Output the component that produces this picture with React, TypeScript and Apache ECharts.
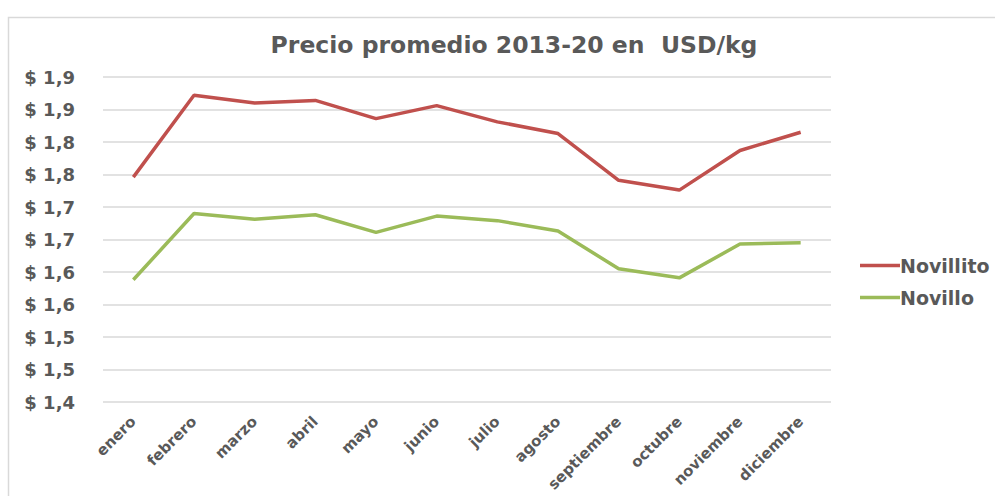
import React, { useEffect, useRef } from "react";
import * as echarts from "echarts";

const categories = ["enero", "febrero", "marzo", "abril", "mayo", "junio", "julio", "agosto", "septiembre", "octubre", "noviembre", "diciembre"];
const novillito = [1.746, 1.872, 1.86, 1.864, 1.836, 1.856, 1.831, 1.813, 1.741, 1.726, 1.787, 1.815];
const novillo = [1.588, 1.69, 1.681, 1.688, 1.661, 1.686, 1.679, 1.663, 1.605, 1.591, 1.643, 1.645];
const yMin = 1.4;
const yMax = 1.9;
const yStep = 0.05;

const FONT = "DejaVu Sans";
const GRAY = "#595959";

export default function App() {
  const ref = useRef<HTMLDivElement>(null);
  useEffect(() => {
    if (!ref.current) return;
    const chart = echarts.init(ref.current, null, { renderer: "svg" });
    chart.setOption({
      animation: false,
      backgroundColor: "#ffffff",
      title: {
        text: "Precio promedio 2013-20 en  USD/kg",
        left: 509,
        textAlign: "center",
        top: 28,
        textStyle: { fontFamily: FONT, fontWeight: "bold", fontSize: 23.5, color: GRAY },
      },
      graphic: [
        {
          type: "rect",
          shape: { x: 8.5, y: 17.5, width: 1100, height: 600 },
          style: { fill: "none", stroke: "#d9d9d9", lineWidth: 1.5 },
          silent: true,
          z: -10,
        },
      ],
      legend: {
        orient: "vertical",
        left: 855,
        top: 251,
        itemWidth: 40,
        itemHeight: 14,
        itemGap: 13,
        data: [
          { name: "Novillito", icon: "path://M0,0 L40,0 L40,3.5 L0,3.5 Z" },
          { name: "Novillo", icon: "path://M0,0 L40,0 L40,3.5 L0,3.5 Z" },
        ],
        textStyle: { fontFamily: FONT, fontWeight: "bold", fontSize: 19, color: GRAY, padding: [0, 0, 0, -5] },
      },
      grid: { left: 103, top: 77, width: 728, height: 325, outerBoundsMode: "none", containLabel: false },
      xAxis: {
        type: "category",
        data: categories,
        boundaryGap: true,
        axisLine: { show: false },
        axisTick: { show: false },
        axisLabel: {
          rotate: 45,
          interval: 0,
          margin: 17,
          fontFamily: FONT,
          fontWeight: "bold",
          fontSize: 15,
          color: GRAY,
        },
      },
      yAxis: {
        type: "value",
        min: yMin,
        max: yMax,
        interval: yStep,
        axisLine: { show: false },
        axisTick: { show: false },
        splitLine: { lineStyle: { color: "#d9d9d9", width: 1.5 } },
        axisLabel: {
          margin: 28,
          fontFamily: FONT,
          fontWeight: "bold",
          fontSize: 18,
          color: GRAY,
          formatter: (v: number) => "$ " + (Math.round(v * 10 + 1e-6) / 10).toFixed(1).replace(".", ","),
        },
      },
      series: [
        {
          name: "Novillito",
          type: "line",
          data: novillito,
          symbol: "none",
          itemStyle: { color: "#C0504D" },
          lineStyle: { color: "#C0504D", width: 3.5 },
        },
        {
          name: "Novillo",
          type: "line",
          data: novillo,
          symbol: "none",
          itemStyle: { color: "#9BBB59" },
          lineStyle: { color: "#9BBB59", width: 3.5 },
        },
      ],
    });
    return () => chart.dispose();
  }, []);
  return <div ref={ref} style={{ position: "fixed", left: 0, top: 0, width: 995, height: 496 }} />;
}
